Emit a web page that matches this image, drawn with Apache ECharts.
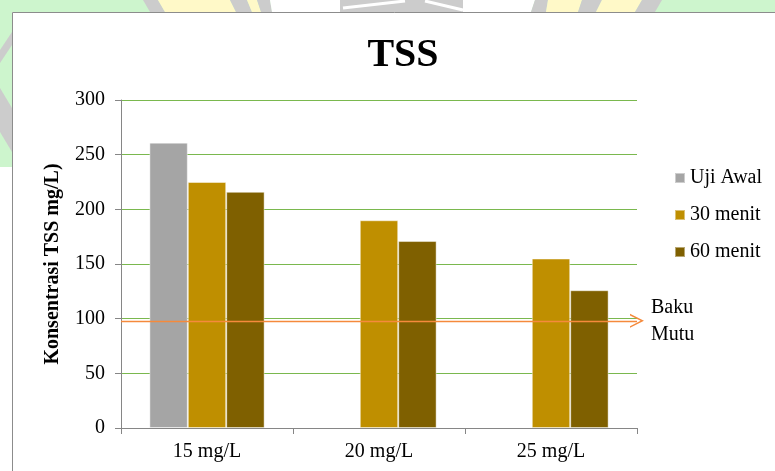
<!DOCTYPE html>
<html>
<head>
<meta charset="utf-8">
<script src="https://cdn.jsdelivr.net/npm/echarts@6/dist/echarts.min.js"></script>
<style>
  html, body { margin: 0; padding: 0; background: #fff; }
  #chart { width: 775px; height: 471px; }
</style>
</head>
<body>
<div id="chart"></div>
<script>
// Concentrations per dose
const categories = ['15 mg/L', '20 mg/L', '25 mg/L'];
const ujiAwal   = [261, null, null];
const menit30   = [225, 190, 155];
const menit60   = [216, 171, 126];
const bakuMutu  = 98;
const yTicks    = { min: 0, max: 300, interval: 50 };

const serif = '"Liberation Serif", "Times New Roman", serif';
const GREEN = '#cdf5cd', YELLOW = '#fff9c8', GRAY = '#cccccc';

function poly(points, fill) {
  return { type: 'polygon', z: -5, silent: true, shape: { points }, style: { fill } };
}

// Decorative backdrop around the chart frame
const backdrop = [
  { type: 'rect', z: -6, silent: true, shape: { x: 0, y: 0, width: 775, height: 12 }, style: { fill: GREEN } },
  { type: 'rect', z: -6, silent: true, shape: { x: 0, y: 0, width: 12, height: 167 }, style: { fill: GREEN } },
  poly([[143,0],[158,0],[165,12],[150,12]], GRAY),
  poly([[158,0],[230,0],[236,12],[165,12]], YELLOW),
  poly([[230,0],[247,0],[252,12],[236,12]], GRAY),
  poly([[247,0],[257,0],[261,12],[252,12]], YELLOW),
  poly([[257,0],[270,0],[272,12],[261,12]], GRAY),
  poly([[270,0],[340,0],[340,12],[272,12]], '#ffffff'),
  poly([[340,0],[463,0],[463,12],[340,12]], GRAY),
  { type: 'polyline', z: -4, silent: true, shape: { points: [[343,8],[405,1]] }, style: { stroke: '#fff', lineWidth: 3 } },
  { type: 'polyline', z: -4, silent: true, shape: { points: [[425,1],[463,10]] }, style: { stroke: '#fff', lineWidth: 3 } },
  poly([[463,0],[535,0],[531,12],[463,12]], '#ffffff'),
  poly([[535,0],[548,0],[546,12],[531,12]], GRAY),
  poly([[548,0],[582,0],[578,12],[546,12]], YELLOW),
  poly([[582,0],[602,0],[596,12],[578,12]], GRAY),
  poly([[602,0],[642,0],[635,12],[596,12]], YELLOW),
  poly([[642,0],[662,0],[655,12],[635,12]], GRAY),
  poly([[12,32],[12,45],[0,63],[0,50]], GRAY),
  poly([[0,88],[12,108],[12,152],[0,132]], GRAY),
  { type: 'rect', z: -3, silent: true, shape: { x: 12.5, y: 12.5, width: 800, height: 500 },
    style: { fill: 'none', stroke: '#8c8c8c', lineWidth: 1 } }
];

// Open chevron used as the end marker of the reference line
const chevron = 'path://M0,10 L5,0 L10,10 L8.8,10 L5,2.4 L1.2,10 Z';

const barBorder = { borderColor: 'rgba(255,255,255,0.45)', borderWidth: 1 };

const chart = echarts.init(document.getElementById('chart'));
chart.setOption({
  backgroundColor: '#ffffff',
  animation: false,
  graphic: backdrop,
  title: {
    text: 'TSS',
    left: 398, top: 31, textAlign: 'center',
    textStyle: { fontFamily: serif, fontSize: 40, fontWeight: 'bold', color: '#000' }
  },
  legend: {
    orient: 'vertical',
    left: 674, top: 168, padding: 0,
    itemWidth: 10, itemHeight: 10, itemGap: 17,
    icon: 'rect',
    textStyle: { fontFamily: serif, fontSize: 20, color: '#000' },
    data: ['Uji Awal', '30 menit', '60 menit']
  },
  grid: { left: 121, right: 138, top: 100, bottom: 43 },
  xAxis: {
    type: 'category',
    data: categories,
    axisLine: { lineStyle: { color: '#868686', width: 1 } },
    axisTick: { show: true, length: 6, lineStyle: { color: '#868686' } },
    axisLabel: { fontFamily: serif, fontSize: 20, color: '#000', margin: 14 }
  },
  yAxis: {
    type: 'value',
    min: yTicks.min, max: yTicks.max, interval: yTicks.interval,
    name: 'Konsentrasi TSS mg/L)',
    nameLocation: 'middle',
    nameGap: 58,
    nameTextStyle: { fontFamily: serif, fontSize: 20, fontWeight: 'bold', color: '#000' },
    axisLine: { show: true, lineStyle: { color: '#868686', width: 1 } },
    axisTick: { show: true, length: 6, lineStyle: { color: '#868686' } },
    axisLabel: { fontFamily: serif, fontSize: 20, color: '#000', margin: 16 },
    splitLine: { lineStyle: { color: '#7ab84e', width: 1 } }
  },
  series: [
    { name: 'Uji Awal', type: 'bar', data: ujiAwal, barGap: '0%', barCategoryGap: '33%',
      itemStyle: Object.assign({ color: '#a5a5a5' }, barBorder) },
    { name: '30 menit', type: 'bar', data: menit30, barGap: '0%', barCategoryGap: '33%',
      itemStyle: Object.assign({ color: '#bf8f00' }, barBorder) },
    { name: '60 menit', type: 'bar', data: menit60, barGap: '0%', barCategoryGap: '33%',
      itemStyle: Object.assign({ color: '#7f6000' }, barBorder),
      markLine: {
        silent: true,
        symbol: ['none', chevron],
        symbolSize: [14, 14],
        lineStyle: { color: '#f58a3c', width: 1.3, type: 'solid' },
        label: {
          show: true, position: 'end', distance: 14,
          formatter: 'Baku\nMutu',
          fontFamily: serif, fontSize: 20, lineHeight: 27, color: '#000'
        },
        data: [{ yAxis: bakuMutu }]
      }
    }
  ]
});
</script>
</body>
</html>
